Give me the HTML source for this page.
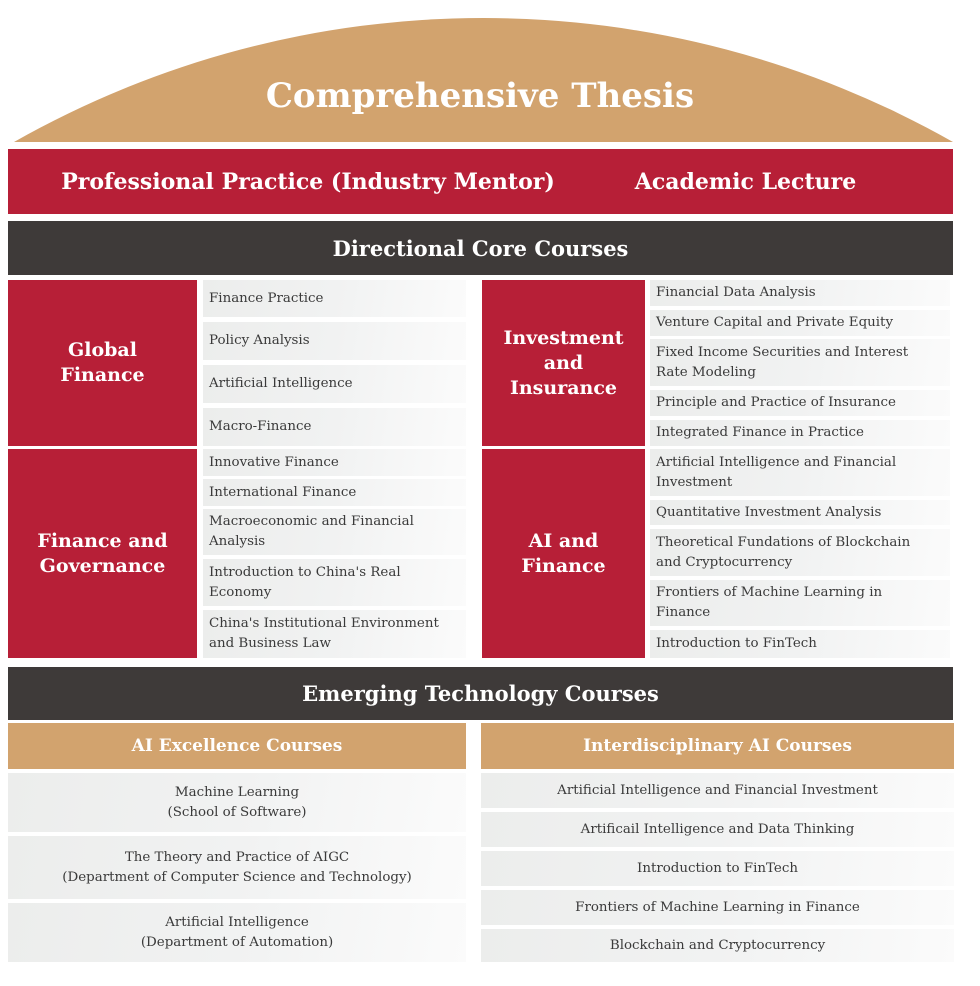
<!DOCTYPE html>
<html><head><meta charset="utf-8"><style>
*{margin:0;padding:0;box-sizing:border-box}
body{width:980px;height:986px;background:#fff;position:relative;overflow:hidden;font-family:"DejaVu Serif","Liberation Serif",serif}
.a{position:absolute}
.red{background:#b71f37;color:#fff;font-weight:bold;display:flex;align-items:center;justify-content:center;text-align:center}
.dark{background:#3e3a39;color:#fff;font-weight:bold;display:flex;align-items:center;justify-content:center;font-size:21px}
.gold{background:#d2a36e;color:#fff;font-weight:bold;display:flex;align-items:center;justify-content:center;font-size:17px}
.it{background:linear-gradient(100deg,#ecedec 0%,#f1f2f2 50%,#fbfbfb 100%);color:#3a3a3a;font-size:13.4px;line-height:20px;display:flex;align-items:center;padding-left:6px}
.c{justify-content:center;text-align:center;padding-left:0}
.blk{font-size:19px;line-height:25px}
</style></head><body>
<svg class="a" style="left:0;top:0" width="980" height="150"><path d="M14,142 A951,951 0 0 1 953,142 Z" fill="#d2a36e"/>
<text x="480" y="107" text-anchor="middle" fill="#fff" font-family="DejaVu Serif, Liberation Serif, serif" font-weight="bold" font-size="34">Comprehensive Thesis</text></svg>
<div class="a red" style="left:8px;top:149px;width:945px;height:65px;font-size:22px;justify-content:flex-start">
<span class="a" style="left:0;width:600px;text-align:center">Professional Practice (Industry Mentor)</span>
<span class="a" style="left:600px;width:275px;text-align:center">Academic Lecture</span></div>
<div class="a dark" style="left:8px;top:221px;width:945px;height:54px">Directional Core Courses</div>

<div class="a red blk" style="left:8px;top:280px;width:189px;height:166px">Global<br>Finance</div>
<div class="a it" style="left:203px;top:280px;width:263px;height:37px">Finance Practice</div>
<div class="a it" style="left:203px;top:322px;width:263px;height:38px">Policy Analysis</div>
<div class="a it" style="left:203px;top:365px;width:263px;height:38px">Artificial Intelligence</div>
<div class="a it" style="left:203px;top:408px;width:263px;height:38px">Macro-Finance</div>

<div class="a red blk" style="left:8px;top:449px;width:189px;height:209px">Finance and<br>Governance</div>
<div class="a it" style="left:203px;top:449px;width:263px;height:27px">Innovative Finance</div>
<div class="a it" style="left:203px;top:479px;width:263px;height:27px">International Finance</div>
<div class="a it" style="left:203px;top:509px;width:263px;height:46px">Macroeconomic and Financial<br>Analysis</div>
<div class="a it" style="left:203px;top:559px;width:263px;height:47px">Introduction to China's Real<br>Economy</div>
<div class="a it" style="left:203px;top:610px;width:263px;height:48px">China's Institutional Environment<br>and Business Law</div>

<div class="a red blk" style="left:482px;top:280px;width:163px;height:166px">Investment<br>and<br>Insurance</div>
<div class="a it" style="left:650px;top:280px;width:300px;height:26px">Financial Data Analysis</div>
<div class="a it" style="left:650px;top:310px;width:300px;height:26px">Venture Capital and Private Equity</div>
<div class="a it" style="left:650px;top:339px;width:300px;height:47px">Fixed Income Securities and Interest<br>Rate Modeling</div>
<div class="a it" style="left:650px;top:390px;width:300px;height:26px">Principle and Practice of Insurance</div>
<div class="a it" style="left:650px;top:420px;width:300px;height:26px">Integrated Finance in Practice</div>

<div class="a red blk" style="left:482px;top:449px;width:163px;height:209px">AI and<br>Finance</div>
<div class="a it" style="left:650px;top:449px;width:300px;height:47px">Artificial Intelligence and Financial<br>Investment</div>
<div class="a it" style="left:650px;top:500px;width:300px;height:25px">Quantitative Investment Analysis</div>
<div class="a it" style="left:650px;top:529px;width:300px;height:47px">Theoretical Fundations of Blockchain<br>and Cryptocurrency</div>
<div class="a it" style="left:650px;top:580px;width:300px;height:46px">Frontiers of Machine Learning in<br>Finance</div>
<div class="a it" style="left:650px;top:630px;width:300px;height:28px">Introduction to FinTech</div>

<div class="a dark" style="left:8px;top:667px;width:945px;height:53px">Emerging Technology Courses</div>
<div class="a gold" style="left:8px;top:723px;width:458px;height:46px">AI Excellence Courses</div>
<div class="a gold" style="left:481px;top:723px;width:473px;height:46px">Interdisciplinary AI Courses</div>

<div class="a it c" style="left:8px;top:773px;width:458px;height:59px">Machine Learning<br>(School of Software)</div>
<div class="a it c" style="left:8px;top:836px;width:458px;height:63px">The Theory and Practice of AIGC<br>(Department of Computer Science and Technology)</div>
<div class="a it c" style="left:8px;top:903px;width:458px;height:59px">Artificial Intelligence<br>(Department of Automation)</div>

<div class="a it c" style="left:481px;top:773px;width:473px;height:35px">Artificial Intelligence and Financial Investment</div>
<div class="a it c" style="left:481px;top:812px;width:473px;height:35px">Artificail Intelligence and Data Thinking</div>
<div class="a it c" style="left:481px;top:851px;width:473px;height:35px">Introduction to FinTech</div>
<div class="a it c" style="left:481px;top:890px;width:473px;height:35px">Frontiers of Machine Learning in Finance</div>
<div class="a it c" style="left:481px;top:929px;width:473px;height:33px">Blockchain and Cryptocurrency</div>
</body></html>
